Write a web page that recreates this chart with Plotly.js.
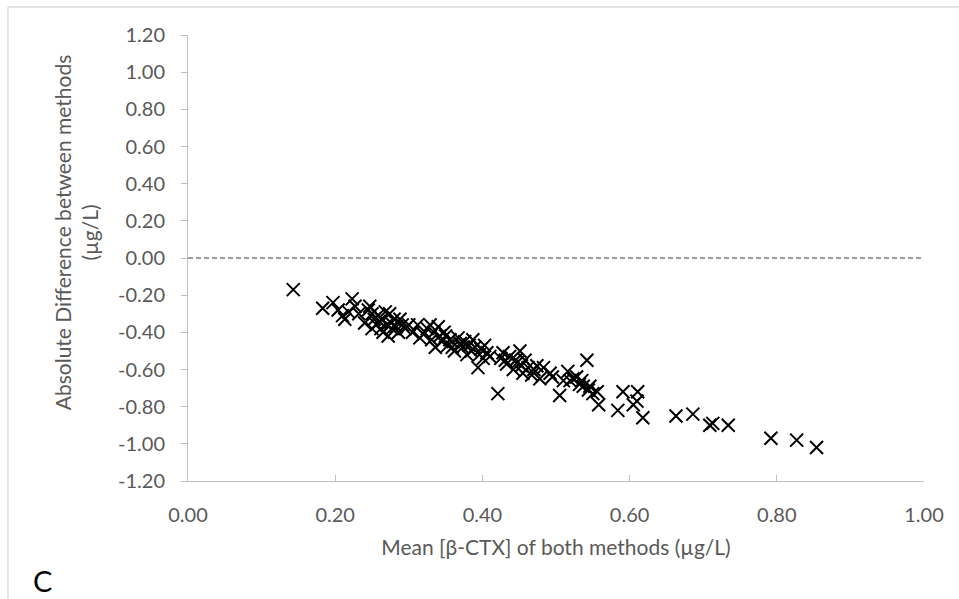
<!DOCTYPE html>
<html>
<head>
<meta charset="utf-8">
<script src="https://cdn.plot.ly/plotly-3.0.1.min.js"></script>
<style>html,body{margin:0;padding:0;background:#fff;}#chart{width:959px;height:599px;}</style>
</head>
<body>
<div id="chart"></div>
<script>
const meanValues = [0.143,0.183,0.197,0.204,0.210,0.213,0.218,0.223,0.227,0.232,0.240,0.245,0.247,0.250,0.250,0.253,0.256,0.258,0.260,0.262,0.264,0.265,0.268,0.270,0.272,0.274,0.276,0.277,0.280,0.283,0.286,0.288,0.291,0.295,0.300,0.305,0.312,0.315,0.320,0.325,0.329,0.331,0.334,0.336,0.340,0.342,0.345,0.348,0.350,0.353,0.356,0.359,0.362,0.367,0.370,0.373,0.376,0.379,0.382,0.385,0.387,0.390,0.394,0.396,0.398,0.401,0.403,0.406,0.410,0.421,0.425,0.428,0.431,0.433,0.437,0.442,0.445,0.448,0.451,0.453,0.455,0.458,0.462,0.467,0.470,0.474,0.478,0.483,0.492,0.495,0.505,0.510,0.516,0.519,0.523,0.528,0.532,0.535,0.537,0.542,0.544,0.546,0.550,0.556,0.558,0.584,0.591,0.605,0.610,0.611,0.618,0.663,0.686,0.709,0.713,0.734,0.792,0.827,0.854];
const diffValues = [-0.17,-0.27,-0.24,-0.28,-0.31,-0.33,-0.29,-0.22,-0.26,-0.30,-0.35,-0.28,-0.26,-0.30,-0.38,-0.33,-0.36,-0.31,-0.34,-0.38,-0.33,-0.40,-0.29,-0.36,-0.42,-0.30,-0.35,-0.38,-0.33,-0.37,-0.40,-0.33,-0.36,-0.38,-0.36,-0.40,-0.36,-0.43,-0.41,-0.38,-0.36,-0.44,-0.40,-0.48,-0.37,-0.42,-0.45,-0.40,-0.42,-0.47,-0.44,-0.48,-0.50,-0.43,-0.46,-0.48,-0.45,-0.52,-0.47,-0.50,-0.44,-0.48,-0.59,-0.52,-0.49,-0.54,-0.47,-0.51,-0.53,-0.73,-0.54,-0.51,-0.55,-0.57,-0.53,-0.60,-0.55,-0.56,-0.50,-0.58,-0.62,-0.55,-0.59,-0.63,-0.60,-0.58,-0.65,-0.59,-0.62,-0.64,-0.74,-0.66,-0.61,-0.66,-0.65,-0.64,-0.68,-0.66,-0.69,-0.55,-0.71,-0.69,-0.73,-0.72,-0.79,-0.82,-0.72,-0.79,-0.77,-0.72,-0.86,-0.85,-0.84,-0.90,-0.89,-0.90,-0.97,-0.98,-1.02];
const xTicks = [0, 0.2, 0.4, 0.6, 0.8, 1.0];
const yTicks = [-1.2, -1.0, -0.8, -0.6, -0.4, -0.2, 0, 0.2, 0.4, 0.6, 0.8, 1.0, 1.2];
const zeroLine = 0;

const fontFam = 'Lato, "Open Sans", sans-serif';
const trace = {
  x: meanValues, y: diffValues, type: 'scatter', mode: 'markers',
  marker: {symbol: 'x-thin', size: 13, color: '#000', line: {color: '#000', width: 2}},
  hoverinfo: 'x+y'
};
const bx = -0.2446, by = 1.0628;
const layout = {
  width: 959, height: 599,
  margin: {l: 188, r: 35, t: 35, b: 118},
  paper_bgcolor: '#fff', plot_bgcolor: '#fff',
  showlegend: false,
  font: {family: fontFam, color: '#595959', size: 20},
  xaxis: {
    range: [0, 1.0], tickvals: xTicks, ticktext: xTicks.map(v => v.toFixed(2)),
    showgrid: false, zeroline: false, showline: true, linecolor: '#bfbfbf', linewidth: 1,
    ticks: 'inside', ticklen: 6, tickcolor: '#bfbfbf', ticklabelstandoff: 16,
    tickfont: {family: fontFam, size: 20, color: '#595959'},
    title: {text: 'Mean [β-CTX] of both methods (µg/L)', font: {family: fontFam, size: 21, color: '#595959'}, standoff: 15}
  },
  yaxis: {
    range: [-1.2, 1.2], tickvals: yTicks, ticktext: yTicks.map(v => v.toFixed(2)),
    showgrid: false, zeroline: false, showline: true, linecolor: '#bfbfbf', linewidth: 1,
    ticks: 'outside', ticklen: 6, tickcolor: '#bfbfbf', ticklabelstandoff: 12,
    tickfont: {family: fontFam, size: 20, color: '#595959'}
  },
  shapes: [
    {type: 'line', xref: 'paper', yref: 'y', x0: 0, x1: 1, y0: zeroLine, y1: zeroLine,
     line: {color: '#7f7f7f', width: 1.5, dash: '5px,3px'}},
    {type: 'line', xref: 'paper', yref: 'paper', x0: bx, x1: bx, y0: -0.3, y1: by,
     line: {color: '#d9d9d9', width: 1.3}},
    {type: 'line', xref: 'paper', yref: 'paper', x0: bx, x1: 1.1, y0: by, y1: by,
     line: {color: '#d9d9d9', width: 1.3}}
  ],
  annotations: [
    {text: 'Absolute Difference between methods<br>(µg/L)', xref: 'paper', yref: 'paper',
     x: -0.152, y: 0.558, xanchor: 'center', yanchor: 'middle', textangle: -90, showarrow: false,
     font: {family: fontFam, size: 21, color: '#595959'}},
    {text: 'C', xref: 'paper', yref: 'paper', x: -0.198, y: -0.222, xanchor: 'center', yanchor: 'middle',
     showarrow: false, font: {family: fontFam, size: 29, color: '#000'}}
  ]
};
Plotly.newPlot('chart', [trace], layout, {displayModeBar: false, staticPlot: true});
</script>
</body>
</html>
